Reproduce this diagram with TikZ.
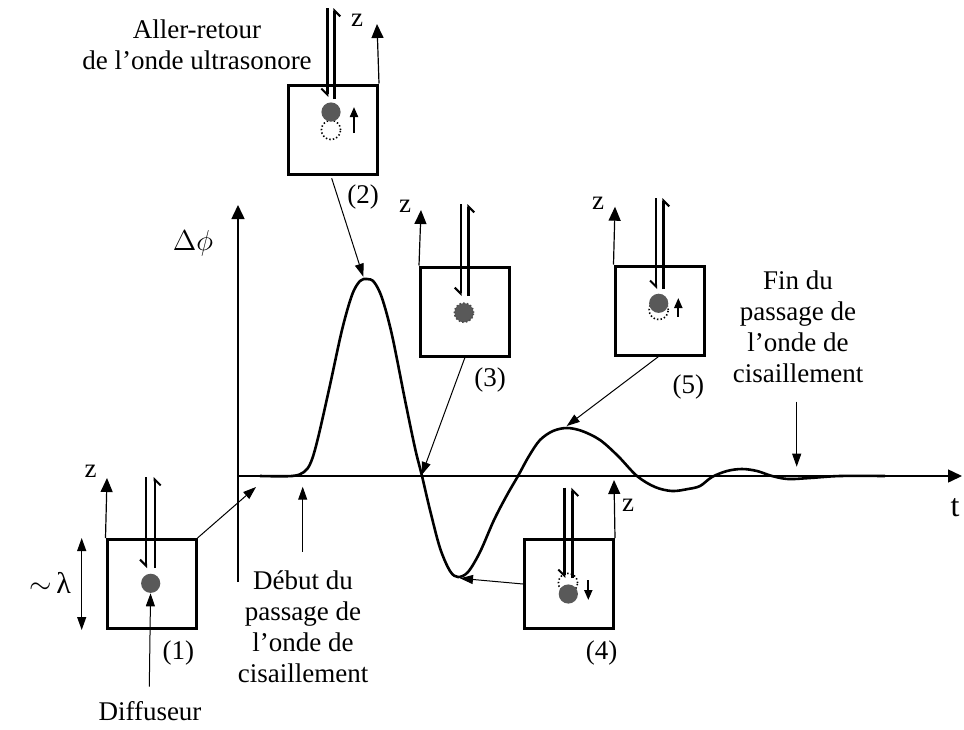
\documentclass[tikz,border=0pt]{standalone}
\usepackage{fontspec}
\setmainfont{Liberation Serif}
\usetikzlibrary{arrows.meta}
\definecolor{diffgray}{HTML}{595959}
\begin{document}
\begin{tikzpicture}[x=0.5pt,y=-0.5pt,
  lbl/.style={font=\fontsize{13.5}{15.5}\selectfont, inner sep=0pt, align=center},
  box/.style={draw, line width=1.5pt, minimum width=44.5pt, minimum height=44.5pt, inner sep=0pt},
  axis/.style={line width=0.75pt, -{Triangle[width=6.5pt,length=7pt]}},
  zax/.style={line width=0.6pt, -{Triangle[width=6pt,length=7pt]}},
  conn/.style={line width=0.5pt, -{Triangle[width=4.5pt,length=6.5pt]}},
  usw/.style={line width=1.2pt, -{Straight Barb[right,length=3pt,width=6pt,line width=1pt]}},
  diff/.style={circle, fill=diffgray, minimum size=9.6pt, inner sep=0pt},
  ghost/.style={circle, draw, dash pattern=on 0.7pt off 1.1pt, line width=0.8pt, minimum size=9.6pt, inner sep=0pt},
  move/.style={line width=1pt, -{Triangle[width=4pt,length=5pt]}},
  curve/.style={line width=1.3pt, line join=round}
]
\useasboundingbox (0,0) rectangle (964,729);

% axes
\coordinate (ybot) at (238,582);
\coordinate (ytop) at (238,205);
\coordinate (o) at (238,476);
\coordinate (tend) at (962,476);
\draw[axis] (ybot) -- (ytop);
\draw[axis] (o) -- (tend);
\node[lbl, font=\fontsize{14}{16}\selectfont] (dphi) at (193,243) {$\Delta\phi$};
\node[lbl, font=\fontsize{16}{18}\selectfont] (t) at (955,508) {t};

% signal curve
\draw[curve] plot[smooth, tension=0.55] coordinates {
 (260,476) (292,476) (304,472) (311,462) (318,438) (330,385) (342,330) (352,295)
 (360,281) (367,279) (374,282) (382,298) (392,335) (405,400) (415,448) (422,476)
 (430,510) (440,548) (450,571) (458,577) (468,572) (480,552) (494,520) (507,495)
 (518,476) (529,456) (540,440) (553,431) (567,428) (582,431) (600,440) (618,456)
 (637,476) (655,487) (672,491) (688,489) (700,486) (712,477) (727,471) (742,469)
 (757,471) (772,476) (788,479) (810,478) (840,476) (885,476)};
\coordinate (c0) at (256,487);
\coordinate (c2) at (363.3,276.7);
\coordinate (c3) at (421.7,475);
\coordinate (c4) at (460,578.3);
\coordinate (c5) at (566.7,426);
\coordinate (cstart) at (302.7,486.7);
\coordinate (cend) at (796.7,466.7);

% boxes
\node[box] (b1) at (151.5,584) {};
\node[box] (b2) at (333,129.5) {};
\node[box] (b3) at (465,311.5) {};
\node[box] (b5) at (659.5,310.5) {};
\node[box] (b4) at (569,584) {};

% z axes
\coordinate (z1) at (107,478);
\coordinate (z2) at (377,24);
\coordinate (z3) at (421,210);
\coordinate (z5) at (615,206.7);
\coordinate (z4) at (614,480);
\draw[zax] (b1.north west) -- (z1);
\draw[zax] (b2.north east) -- (z2);
\draw[zax] (b3.north west) -- (z3);
\draw[zax] (b5.north west) -- (z5);
\draw[zax] (b4.north east) -- (z4);
\node[lbl] (zl1) at (90.7,471.7) {z};
\node[lbl] (zl2) at (357,20) {z};
\node[lbl] (zl3) at (405,206) {z};
\node[lbl] (zl5) at (598,203) {z};
\node[lbl] (zl4) at (628,505) {z};

% ultrasound go and return
\draw[usw] (146,477) -- (146,568);
\draw[usw] (154.7,568) -- (154.7,477);
\draw[usw] (327.3,8) -- (327.3,97);
\draw[usw] (334.3,99) -- (334.3,8);
\draw[usw] (460.7,204) -- (460.7,296);
\draw[usw] (468.3,296) -- (468.3,204);
\draw[usw] (656,198) -- (656,289);
\draw[usw] (663.3,289) -- (663.3,198);
\draw[usw] (564.3,487.7) -- (564.3,578);
\draw[usw] (572.3,578) -- (572.3,487.7);

% scatterers
\node[diff] (d1) at (150.7,583.3) {};
\node[ghost] (g2) at (331,130) {};
\node[diff] (d2) at (331,112) {};
\draw[move] (354,133) -- (354,107);
\node[diff, draw=black!70, dash pattern=on 0.7pt off 1.1pt, line width=0.8pt] (d3) at (464,312.7) {};
\node[ghost] (g5) at (658.7,310) {};
\node[diff] (d5) at (658.7,303.3) {};
\draw[move] (678.3,316.7) -- (678.3,298);
\node[ghost] (g4) at (568,583) {};
\node[diff] (d4) at (568.3,594) {};
\draw[move] (588.3,580) -- (588.3,600);

% lambda
\coordinate (la) at (81.7,538);
\coordinate (lb) at (81.7,630);
\draw[line width=0.6pt, {Triangle[width=4.5pt,length=6.5pt]}-{Triangle[width=4.5pt,length=6.5pt]}] (la) -- (lb);
\node[lbl, font=\fontsize{15}{17}\selectfont] (lam) at (50,583) {$\sim$\,λ};

% connectors
\draw[conn] (b1.north east) -- (c0);
\draw[conn] (331.7,178.3) -- (c2);
\draw[conn] (465,357.3) -- (c3);
\draw[conn] (658.3,356.7) -- (c5);
\draw[conn] (b4.west) -- (c4);

% labels
\node[lbl] (l1) at (178.3,653.3) {(1)};
\node[lbl] (l2) at (363,196.7) {(2)};
\node[lbl] (l3) at (490,380) {(3)};
\node[lbl] (l4) at (601.7,653.3) {(4)};
\node[lbl] (l5) at (688.3,386.7) {(5)};

\node[lbl, anchor=base] (diffuseur) at (150,720) {Diffuseur};
\draw[conn] (149.3,686.7) -- (d1);

\node[lbl, anchor=north] (aller) at (197,19) {Aller-retour\\de l’onde ultrasonore};

\node[lbl, anchor=north] (debut) at (303,570) {Début du\\passage de\\l’onde de\\cisaillement};
\draw[conn] (302.7,551.7) -- (cstart);

\node[lbl, anchor=north] (fin) at (798,270) {Fin du\\passage de\\l’onde de\\cisaillement};
\draw[conn] (796.7,401.7) -- (cend);
\end{tikzpicture}
\end{document}
